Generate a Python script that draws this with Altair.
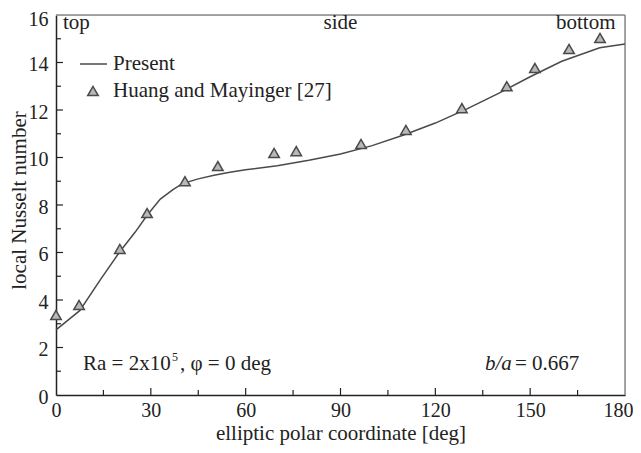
import altair as alt
import pandas as pd

# Present (line) data
line_x = [0, 7.5, 14, 20, 25, 29, 33, 37, 40, 45, 50, 55, 60, 70, 80, 90, 100, 110, 120, 130, 140, 150, 160, 172, 180]
line_y = [2.74, 3.55, 4.85, 6.0, 6.85, 7.6, 8.25, 8.65, 8.9, 9.1, 9.25, 9.38, 9.48, 9.65, 9.88, 10.15, 10.5, 10.95, 11.45, 12.05, 12.7, 13.4, 14.05, 14.62, 14.78]

# Huang and Mayinger [27] (triangles)
exp_x = [0, 7.3, 20.2, 28.8, 40.8, 51.2, 69, 76, 96.5, 110.7, 128.4, 142.6, 151.5, 162.3, 172.1]
exp_y = [3.37, 3.79, 6.15, 7.66, 9.0, 9.64, 10.19, 10.27, 10.57, 11.16, 12.08, 13.0, 13.77, 14.57, 15.03]

x_major = [0, 30, 60, 90, 120, 150, 180]
x_minor = [15, 45, 75, 105, 135, 165]
y_major = [0, 2, 4, 6, 8, 10, 12, 14, 16]
y_minor = [1, 3, 5, 7, 9, 11, 13, 15]

region_x = [2.2, 90, 177]
region_labels = ["top", "side", "bottom"]
legend_labels = ["Present", "Huang and Mayinger [27]"]

W, H = 569, 380
FONT = "Liberation Serif"
FS = 21
AFS = 20
INK = "#222"

line_df = pd.DataFrame({"x": line_x, "y": line_y})
exp_df = pd.DataFrame({"x": exp_x, "y": exp_y})

xs = alt.Scale(domain=[0, 180], nice=False)
ys = alt.Scale(domain=[0, 16], nice=False)

xaxis = alt.Axis(values=x_major, ticks=False, domain=True, domainColor=INK, domainWidth=1.5,
                 labelFont=FONT, labelFontSize=AFS, labelColor=INK, labelPadding=5,
                 labelOffset=alt.ExprRef("datum.value == 180 ? -7 : 0"),
                 title="elliptic polar coordinate [deg]", titleFont=FONT, titleFontSize=FS,
                 titleFontWeight="normal", titleColor=INK, titleY=44, titleBaseline="alphabetic",
                 grid=False, labelFlush=False)
yaxis = alt.Axis(values=y_major, ticks=False, domain=True, domainColor=INK, domainWidth=1.5,
                 labelFont=FONT, labelFontSize=AFS, labelColor=INK, labelPadding=8,
                 labelOffset=alt.ExprRef("datum.value == 16 ? 4 : 2"),
                 title="local Nusselt number", titleFont=FONT, titleFontSize=FS,
                 titleFontWeight="normal", titleColor=INK, titleX=-31, titleY=185,
                 titleBaseline="alphabetic", grid=False, labelFlush=False)

line = alt.Chart(line_df).mark_line(color="#4a4a4a", strokeWidth=1.5).encode(
    x=alt.X("x:Q", scale=xs, axis=xaxis),
    y=alt.Y("y:Q", scale=ys, axis=yaxis),
)

pts = alt.Chart(exp_df).mark_point(shape="triangle-up", filled=True, fill="#b8b8b8",
                                   stroke="#4a4a4a", strokeWidth=1.5, size=110, opacity=1).encode(
    x=alt.X("x:Q", scale=xs), y=alt.Y("y:Q", scale=ys)
)

# frame: top and right borders
top_border = alt.Chart(pd.DataFrame({"y": [16]})).mark_rule(color="#888", strokeWidth=1.5).encode(
    y=alt.Y("y:Q", scale=ys), x=alt.value(0), x2=alt.value(W))
right_border = alt.Chart(pd.DataFrame({"x": [180]})).mark_rule(color="#888", strokeWidth=1.5).encode(
    x=alt.X("x:Q", scale=xs), y=alt.value(0), y2=alt.value(H))

# inward ticks
xmaj = alt.Chart(pd.DataFrame({"x": x_major[1:-1]})).mark_rule(color=INK, strokeWidth=1.2).encode(
    x=alt.X("x:Q", scale=xs), y=alt.value(H), y2=alt.value(H - 7))
xmin = alt.Chart(pd.DataFrame({"x": x_minor})).mark_rule(color=INK, strokeWidth=1.2).encode(
    x=alt.X("x:Q", scale=xs), y=alt.value(H), y2=alt.value(H - 5))
ymaj = alt.Chart(pd.DataFrame({"y": y_major[1:-1]})).mark_rule(color=INK, strokeWidth=1.2).encode(
    y=alt.Y("y:Q", scale=ys), x=alt.value(0), x2=alt.value(7))
ymin = alt.Chart(pd.DataFrame({"y": y_minor})).mark_rule(color=INK, strokeWidth=1.2).encode(
    y=alt.Y("y:Q", scale=ys), x=alt.value(0), x2=alt.value(5))

# region labels
reg = pd.DataFrame({"x": region_x, "t": region_labels})
def region(i, align):
    return alt.Chart(reg.iloc[[i]]).mark_text(font=FONT, fontSize=FS, color=INK, align=align,
                                              baseline="alphabetic").encode(
        x=alt.X("x:Q", scale=xs), y=alt.value(14), text="t:N")
reg_left = region(0, "left")
reg_mid = region(1, "center")
reg_right = region(2, "right")

# legend
leg_line = alt.Chart(pd.DataFrame({"a": [1]})).mark_rule(color="#4a4a4a", strokeWidth=1.5).encode(
    x=alt.value(24), x2=alt.value(51), y=alt.value(49))
leg_pt = alt.Chart(pd.DataFrame({"a": [1]})).mark_point(shape="triangle-up", filled=True, fill="#b8b8b8",
                                                        stroke="#4a4a4a", strokeWidth=1.5, size=110, opacity=1).encode(
    x=alt.value(37), y=alt.value(76))
leg_txt = alt.Chart(pd.DataFrame({"t": legend_labels, "yy": [49, 76]})).mark_text(
    font=FONT, fontSize=FS, color=INK, align="left", baseline="middle").encode(
    x=alt.value(57), y=alt.Y("yy:Q", scale=None), text="t:N")

# annotations
def txt(s, x, y, size=FS, style="normal"):
    return alt.Chart(pd.DataFrame({"t": [s]})).mark_text(font=FONT, fontSize=size, fontStyle=style,
                                                          color=INK, align="left", baseline="alphabetic").encode(
        x=alt.value(x), y=alt.value(y), text="t:N")

ra1 = txt("Ra = 2x10", 27, 355)
ra_sup = txt("5", 116, 346, size=12)
ra2 = txt(", \u03c6 = 0 deg", 124, 355)
ba1 = txt("b/a", 429, 355, style="italic")
ba2 = txt("= 0.667", 459, 355)

chart = alt.layer(
    top_border, right_border, xmaj, xmin, ymaj, ymin, line, pts,
    reg_left, reg_mid, reg_right, leg_line, leg_pt, leg_txt, ra1, ra_sup, ra2, ba1, ba2
).properties(
    width=W, height=H,
    autosize=alt.AutoSizeParams(type="none"),
    padding={"left": 48, "top": 7, "right": 8, "bottom": 50},
).configure_view(stroke=None).configure(background="white")

chart.save("out.html", embed_options={"renderer": "svg", "actions": False})
